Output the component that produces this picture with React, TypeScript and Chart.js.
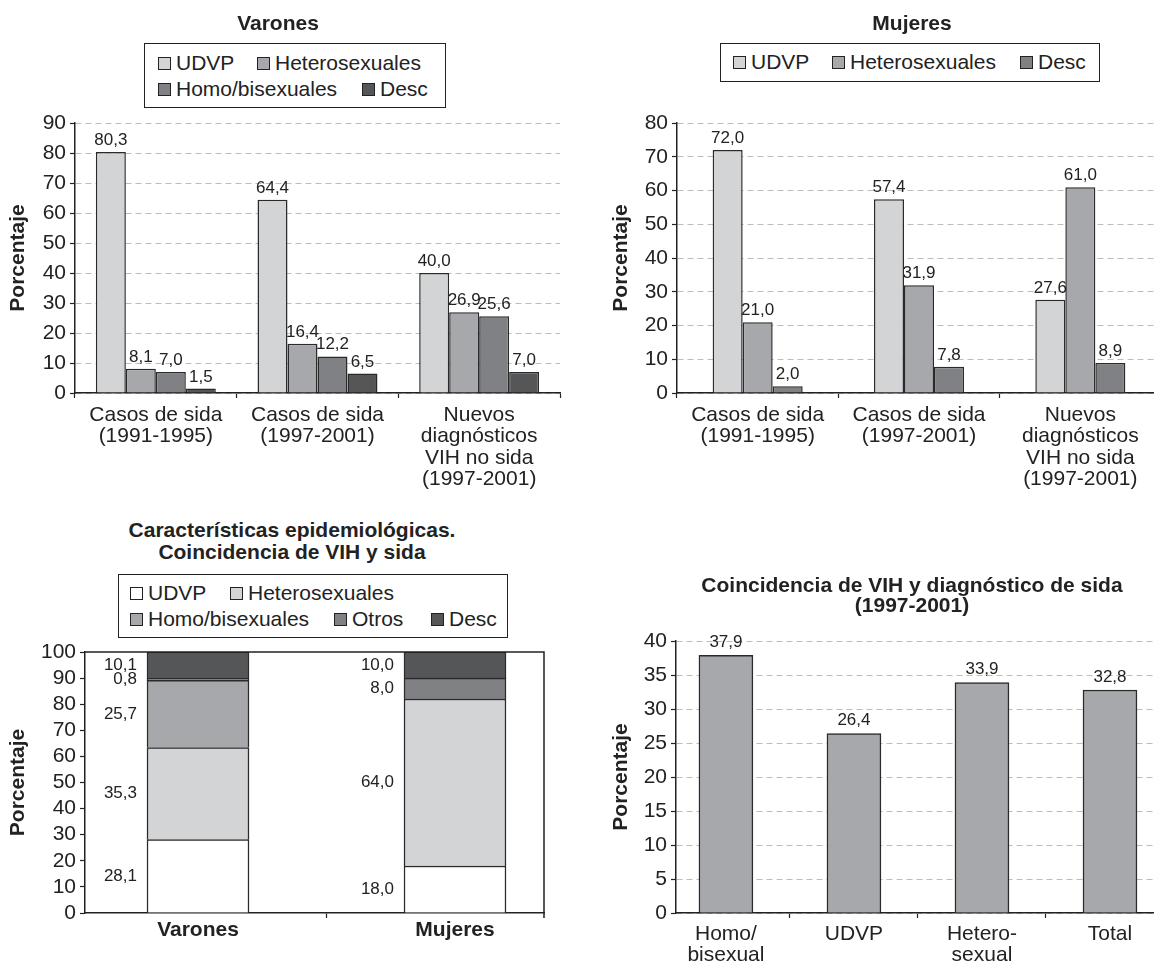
import React, { useEffect, useRef } from "react";
import { Chart, registerables } from "chart.js";

Chart.register(...registerables);

const FONT = '"Liberation Sans", Arial, Helvetica, sans-serif';
const INK = "#222222";
Chart.defaults.font.family = FONT;
Chart.defaults.color = INK;

// ---------------- data ----------------
const periodLabels = [
  ["Casos de sida", "(1991-1995)"],
  ["Casos de sida", "(1997-2001)"],
  ["Nuevos", "diagnósticos", "VIH no sida", "(1997-2001)"],
];

const varonesTitle = "Varones";
const varonesSeries = ["UDVP", "Heterosexuales", "Homo/bisexuales", "Desc"];
const varonesUDVP = [80.3, 64.4, 40.0];
const varonesHetero = [8.1, 16.4, 26.9];
const varonesHomo = [7.0, 12.2, 25.6];
const varonesDesc = [1.5, 6.5, 7.0];
const varonesYTicks = [0, 10, 20, 30, 40, 50, 60, 70, 80, 90];

const mujeresTitle = "Mujeres";
const mujeresSeries = ["UDVP", "Heterosexuales", "Desc"];
const mujeresUDVP = [72.0, 57.4, 27.6];
const mujeresHetero = [21.0, 31.9, 61.0];
const mujeresDesc = [2.0, 7.8, 8.9];
const mujeresYTicks = [0, 10, 20, 30, 40, 50, 60, 70, 80];

const stackTitle = ["Características epidemiológicas.", "Coincidencia de VIH y sida"];
const sexGroups = ["Varones", "Mujeres"];
const stackSeries = ["UDVP", "Heterosexuales", "Homo/bisexuales", "Otros", "Desc"];
const stackUDVP = [28.1, 18.0];
const stackHetero = [35.3, 64.0];
const stackHomo: (number | null)[] = [25.7, null];
const stackOtros = [0.8, 8.0];
const stackDesc = [10.1, 10.0];
const stackYTicks = [0, 10, 20, 30, 40, 50, 60, 70, 80, 90, 100];

const coincTitle = ["Coincidencia de VIH y diagnóstico de sida", "(1997-2001)"];
const coincCategories: (string | string[])[] = [["Homo/", "bisexual"], "UDVP", ["Hetero-", "sexual"], "Total"];
const coincValues = [37.9, 26.4, 33.9, 32.8];
const coincYTicks = [0, 5, 10, 15, 20, 25, 30, 35, 40];

const yAxisTitle = "Porcentaje";

// ---------------- styles ----------------
const WHITE = "#ffffff";
const LIGHT = "#d3d4d6";
const MID = "#a7a8ab";
const DARK = "#808184";
const DARKEST = "#555658";
const EDGE = "#2a2a2a";
const FS = 21;

const varonesColors = [LIGHT, MID, DARK, DARKEST];
const mujeresColors = [LIGHT, MID, DARK];
const stackColors = [WHITE, LIGHT, MID, DARK, DARKEST];

const fmt = (v: number) => v.toFixed(1).replace(".", ",");

// ---------------- plugins ----------------
const valueLabels = (mode: "top" | "left", gap: number) => ({
  id: "valueLabels",
  afterDatasetsDraw(chart: any) {
    const { ctx } = chart;
    ctx.save();
    ctx.font = `17px ${FONT}`;
    ctx.fillStyle = INK;
    chart.data.datasets.forEach((ds: any, di: number) => {
      const meta = chart.getDatasetMeta(di);
      meta.data.forEach((el: any, i: number) => {
        const raw = ds.data[i];
        const v = raw !== null && typeof raw === "object" ? raw.y : raw;
        if (v === null || v === undefined) return;
        if (mode === "top") {
          ctx.textAlign = "center";
          ctx.textBaseline = "alphabetic";
          ctx.fillText(fmt(v), el.x, el.y - gap);
        } else {
          ctx.textAlign = "right";
          ctx.textBaseline = "middle";
          ctx.fillText(fmt(v), el.x - el.width / 2 - gap, (el.y + el.base) / 2);
        }
      });
    });
    ctx.restore();
  },
});

const framePlugin = {
  id: "frame",
  afterDatasetsDraw(chart: any) {
    const { ctx, chartArea: a } = chart;
    ctx.save();
    ctx.strokeStyle = INK;
    ctx.lineWidth = 1.5;
    ctx.beginPath();
    ctx.moveTo(a.left, a.top);
    ctx.lineTo(a.right, a.top);
    ctx.lineTo(a.right, a.bottom + 5);
    ctx.stroke();
    ctx.restore();
  },
};

// ---------------- scale builders ----------------
function yScale(ticks: number[], width: number, titlePad: number, gridOnArea: boolean) {
  return {
    type: "linear",
    min: ticks[0],
    max: ticks[ticks.length - 1],
    afterBuildTicks: (s: any) => {
      s.ticks = ticks.map((v) => ({ value: v }));
    },
    afterFit: (s: any) => {
      s.width = width;
    },
    ticks: { color: INK, font: { size: FS, family: FONT }, padding: 4, autoSkip: false },
    grid: {
      display: true,
      drawOnChartArea: gridOnArea,
      color: "#bdbdbd",
      lineWidth: 1,
      tickLength: 5,
      tickColor: INK,
      tickWidth: 1.2,
      tickBorderDash: [],
    },
    border: { display: true, color: INK, width: 1.5, dash: [6, 4] },
    title: {
      display: true,
      text: yAxisTitle,
      color: INK,
      font: { size: FS, weight: "bold", family: FONT },
      padding: { top: titlePad, bottom: 0 },
    },
  };
}

function xCategory(height: number, lineHeight: number, padding: number) {
  return {
    type: "category",
    offset: true,
    afterFit: (s: any) => {
      s.height = height;
    },
    ticks: {
      color: INK,
      font: { size: FS, family: FONT, lineHeight },
      padding,
      maxRotation: 0,
      minRotation: 0,
      autoSkip: false,
    },
    grid: { display: true, offset: true, drawOnChartArea: false, tickLength: 5, tickColor: INK, tickWidth: 1.2 },
    border: { display: true, color: INK, width: 1.5 },
  };
}

function xLinear(labels: (string | string[])[], min: number, max: number, height: number, bold: boolean, lineHeight: number, padding: number) {
  const marks: number[] = [];
  labels.forEach((_, i) => {
    marks.push(i);
    if (i < labels.length - 1) marks.push(i + 0.5);
  });
  return {
    type: "linear",
    min,
    max,
    offset: false,
    afterBuildTicks: (s: any) => {
      s.ticks = marks.map((v) => ({ value: v }));
    },
    afterFit: (s: any) => {
      s.height = height;
    },
    ticks: {
      callback: (v: number) => (Number.isInteger(v) ? labels[v] : ""),
      color: INK,
      font: { size: FS, family: FONT, weight: bold ? "bold" : "normal", lineHeight },
      padding,
      maxRotation: 0,
      minRotation: 0,
      autoSkip: false,
    },
    grid: {
      display: true,
      offset: false,
      drawOnChartArea: false,
      tickLength: 5,
      tickColor: (c: any) => (c.tick && Number.isInteger(c.tick.value) ? "rgba(0,0,0,0)" : INK),
      tickWidth: 1.2,
    },
    border: { display: true, color: INK, width: 1.5 },
  };
}

// ---------------- chart configs ----------------
const barStyle = (label: string, color: string) => ({
  label,
  backgroundColor: color,
  borderColor: EDGE,
  borderWidth: 1.5,
});

const basePlugins = { legend: { display: false }, title: { display: false }, tooltip: { enabled: false } };

function varonesConfig(): any {
  const values = [varonesUDVP, varonesHetero, varonesHomo, varonesDesc];
  return {
    type: "bar",
    data: {
      labels: periodLabels,
      datasets: values.map((d, i) => ({ ...barStyle(varonesSeries[i], varonesColors[i]), data: d })),
    },
    options: {
      animation: false,
      responsive: false,
      events: [],
      layout: { padding: { left: 0, top: 123, right: 17, bottom: 0 } },
      datasets: { bar: { barPercentage: 1, categoryPercentage: 0.742 } },
      plugins: basePlugins,
      scales: { x: xCategory(107, 1.024, 6), y: yScale(varonesYTicks, 75, 6, true) },
    },
    plugins: [valueLabels("top", 7)],
  };
}

function mujeresConfig(): any {
  const values = [mujeresUDVP, mujeresHetero, mujeresDesc];
  return {
    type: "bar",
    data: {
      labels: periodLabels,
      datasets: values.map((d, i) => ({ ...barStyle(mujeresSeries[i], mujeresColors[i]), data: d })),
    },
    options: {
      animation: false,
      responsive: false,
      events: [],
      layout: { padding: { left: 0, top: 123, right: 16, bottom: 0 } },
      datasets: { bar: { barPercentage: 1, categoryPercentage: 0.558 } },
      plugins: basePlugins,
      scales: { x: xCategory(107, 1.024, 6), y: yScale(mujeresYTicks, 100, 32, true) },
    },
    plugins: [valueLabels("top", 7)],
  };
}

function stackConfig(): any {
  const values = [stackUDVP, stackHetero, stackHomo, stackOtros, stackDesc];
  return {
    type: "bar",
    data: {
      datasets: values.map((d, i) => ({
        ...barStyle(stackSeries[i], stackColors[i]),
        data: d.map((y, gi) => ({ x: gi, y })),
      })),
    },
    options: {
      animation: false,
      responsive: false,
      events: [],
      layout: { padding: { left: 0, top: 52, right: 33, bottom: 0 } },
      datasets: { bar: { barThickness: 102 } },
      plugins: basePlugins,
      scales: {
        x: { ...xLinear(sexGroups, -0.4397, 1.3463, 51, true, 1.2, 0), stacked: true },
        y: { ...yScale(stackYTicks, 85, 6, false), stacked: true },
      },
    },
    plugins: [valueLabels("left", 10), framePlugin],
  };
}

function coincConfig(): any {
  return {
    type: "bar",
    data: {
      datasets: [
        {
          ...barStyle("Coincidencia", MID),
          data: coincValues.map((y, i) => ({ x: i, y })),
        },
      ],
    },
    options: {
      animation: false,
      responsive: false,
      events: [],
      layout: { padding: { left: 0, top: 41, right: 23, bottom: 0 } },
      datasets: { bar: { barThickness: 54 } },
      plugins: basePlugins,
      scales: {
        x: xLinear(coincCategories, -0.39, 3.5, 51, false, 0.98, 6),
        y: yScale(coincYTicks, 99, 32, true),
      },
    },
    plugins: [valueLabels("top", 8)],
  };
}

// ---------------- components ----------------
function ChartCanvas({ width, height, makeConfig }: { width: number; height: number; makeConfig: () => any }) {
  const ref = useRef<HTMLCanvasElement>(null);
  useEffect(() => {
    const chart = new Chart(ref.current as HTMLCanvasElement, makeConfig());
    return () => chart.destroy();
  }, []);
  return <canvas ref={ref} width={width} height={height} style={{ width, height, display: "block" }} />;
}

type Box = { left: number; top: number; width: number; height: number };

function Panel({ box, canvasWidth, makeConfig }: { box: Box; canvasWidth: number; makeConfig: () => any }) {
  return (
    <div style={{ position: "absolute", left: box.left, top: box.top, width: box.width, height: box.height, overflow: "hidden" }}>
      <ChartCanvas width={canvasWidth} height={box.height} makeConfig={makeConfig} />
    </div>
  );
}

function Title({ lines, cx, cy, lh }: { lines: string[]; cx: number; cy: number; lh: number }) {
  return (
    <div
      style={{
        position: "absolute",
        left: cx - 300,
        width: 600,
        top: cy - lh / 2,
        textAlign: "center",
        fontWeight: "bold",
        fontSize: FS,
        lineHeight: `${lh}px`,
        whiteSpace: "nowrap",
        zIndex: 2,
      }}
    >
      {lines.map((l, i) => (
        <div key={i}>{l}</div>
      ))}
    </div>
  );
}

type Slot = { x: number; y: number };

function Legend({ box, names, colors, slots }: { box: Box; names: string[]; colors: string[]; slots: Slot[] }) {
  return (
    <>
      <div
        style={{
          position: "absolute",
          left: box.left,
          top: box.top,
          width: box.width,
          height: box.height,
          border: "1.5px solid #222",
          boxSizing: "border-box",
          background: "#fff",
          zIndex: 2,
        }}
      />
      {names.map((n, i) => (
        <div
          key={n}
          style={{
            position: "absolute",
            left: slots[i].x,
            top: slots[i].y - 12,
            height: 24,
            display: "flex",
            alignItems: "center",
            whiteSpace: "nowrap",
            zIndex: 3,
          }}
        >
          <span
            style={{
              width: 13,
              height: 13,
              boxSizing: "border-box",
              border: "1.3px solid #222",
              background: colors[i],
              marginRight: 5,
              display: "inline-block",
            }}
          />
          <span style={{ fontSize: FS, lineHeight: "24px" }}>{n}</span>
        </div>
      ))}
    </>
  );
}

export default function App() {
  return (
    <div
      style={{
        position: "absolute",
        left: 0,
        top: 0,
        width: 1154,
        height: 964,
        overflow: "hidden",
        background: "#fff",
        fontFamily: FONT,
        color: INK,
      }}
    >
      <Panel box={{ left: 0, top: 0, width: 577, height: 500 }} canvasWidth={577} makeConfig={varonesConfig} />
      <Panel box={{ left: 577, top: 0, width: 577, height: 500 }} canvasWidth={600} makeConfig={mujeresConfig} />
      <Panel box={{ left: 0, top: 600, width: 577, height: 364 }} canvasWidth={577} makeConfig={stackConfig} />
      <Panel box={{ left: 577, top: 600, width: 577, height: 364 }} canvasWidth={620} makeConfig={coincConfig} />

      <Title lines={[varonesTitle]} cx={278} cy={23} lh={24} />
      <Title lines={[mujeresTitle]} cx={912} cy={23} lh={24} />
      <Title lines={stackTitle} cx={292} cy={530} lh={22} />
      <Title lines={coincTitle} cx={912} cy={585} lh={19.5} />

      <Legend
        box={{ left: 144, top: 43, width: 302, height: 65 }}
        names={varonesSeries}
        colors={varonesColors}
        slots={[
          { x: 158, y: 63 },
          { x: 257, y: 63 },
          { x: 158, y: 89 },
          { x: 362, y: 89 },
        ]}
      />
      <Legend
        box={{ left: 720, top: 43, width: 380, height: 39 }}
        names={mujeresSeries}
        colors={mujeresColors}
        slots={[
          { x: 733, y: 62 },
          { x: 832, y: 62 },
          { x: 1020, y: 62 },
        ]}
      />
      <Legend
        box={{ left: 118, top: 574, width: 390, height: 64 }}
        names={stackSeries}
        colors={stackColors}
        slots={[
          { x: 130, y: 593 },
          { x: 230, y: 593 },
          { x: 130, y: 619 },
          { x: 334, y: 619 },
          { x: 431, y: 619 },
        ]}
      />
    </div>
  );
}
